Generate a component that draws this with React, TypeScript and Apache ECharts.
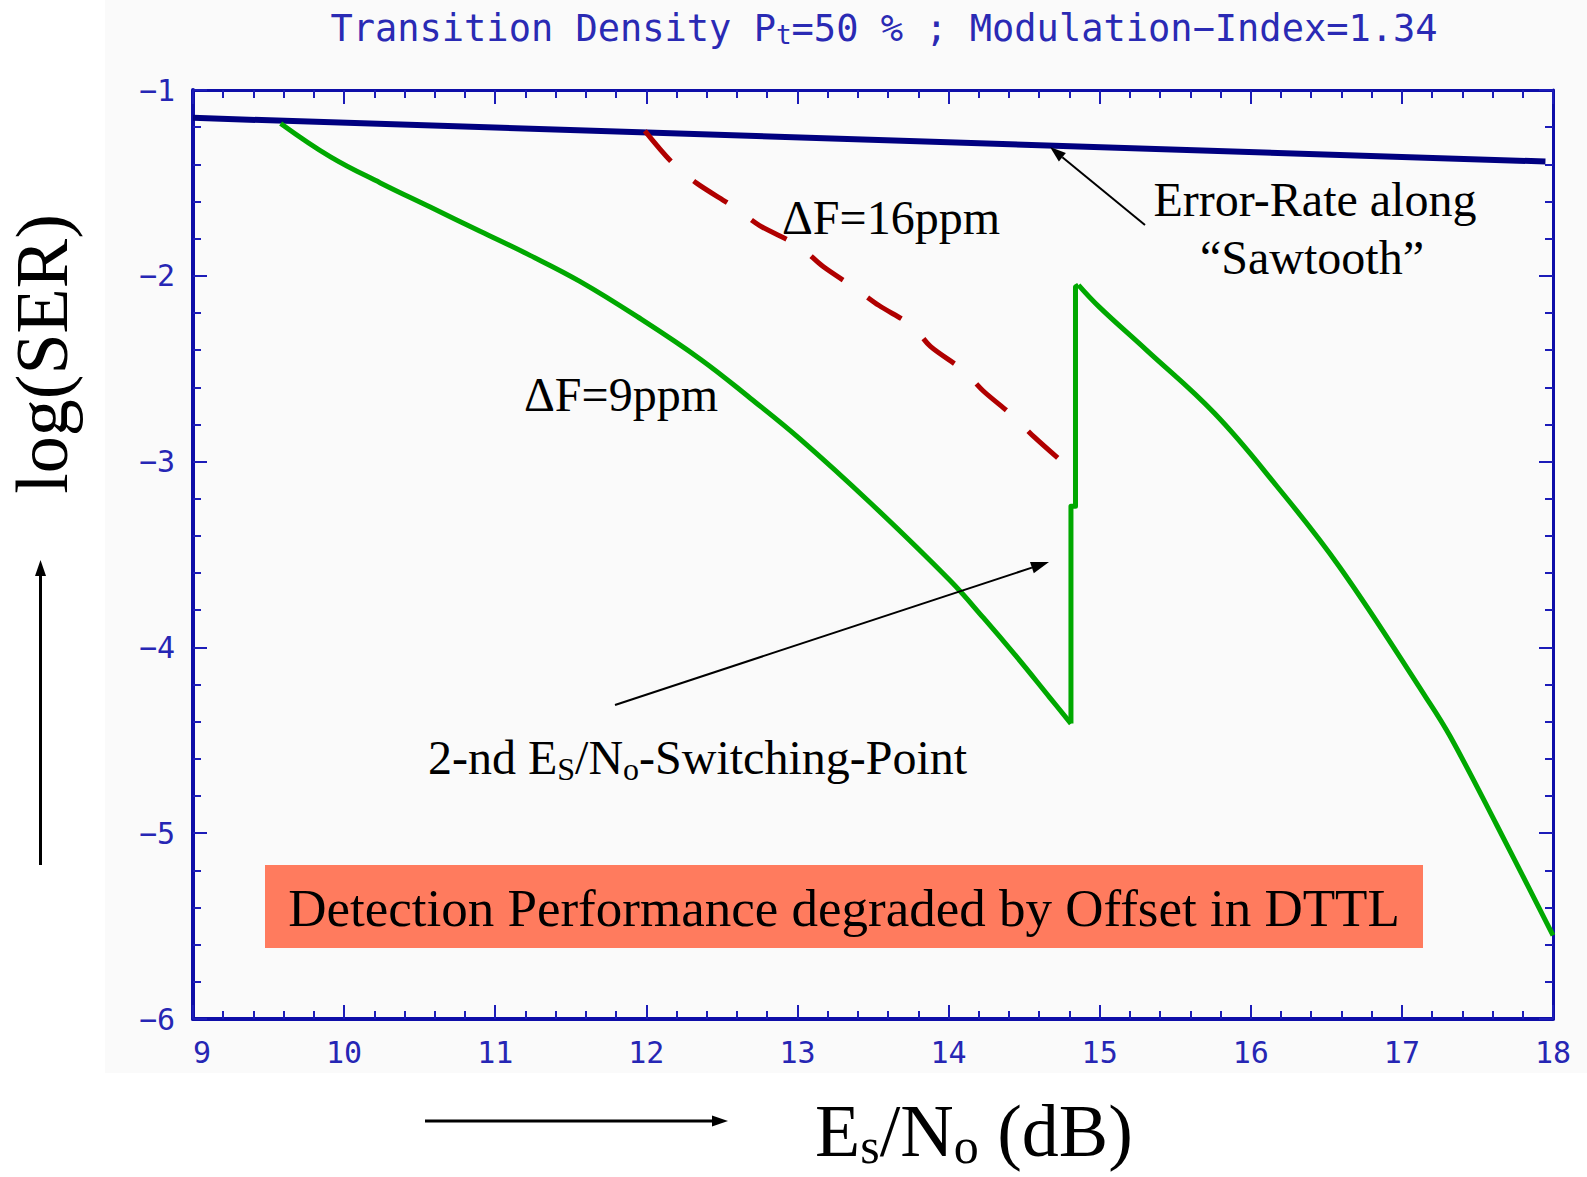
import React, { useEffect, useRef } from "react";
import * as echarts from "echarts";

// ---- axes ----
const xRange = [9, 18];
const yRange = [-6, -1];
const xTickStep = 1;
const yTickStep = 1;

// ---- series (x = Es/No in dB, y = log(SER)) ----
const sawtoothEnvelope = [
  [9.0, -1.15],
  [17.95, -1.385],
];

const deltaF16 = [
  [11.99, -1.22], [12.17, -1.39], [12.33, -1.5], [12.58, -1.63],
  [12.75, -1.73], [13.01, -1.84], [13.17, -1.95], [13.37, -2.06],
  [13.54, -2.16], [13.76, -2.27], [13.88, -2.38], [14.1, -2.51],
  [14.23, -2.62], [14.42, -2.75], [14.57, -2.87], [14.75, -3.0],
];

// dF = 9 ppm: descending branch before the switching point
const deltaF9Before = [
  [9.58, -1.18], [9.91, -1.36], [10.24, -1.5], [10.57, -1.63],
  [10.9, -1.76], [11.23, -1.89], [11.56, -2.03], [11.94, -2.22],
  [12.36, -2.45], [12.69, -2.66], [13.02, -2.88], [13.48, -3.22],
  [14.01, -3.64], [14.23, -3.84], [14.45, -4.05], [14.67, -4.27],
  [14.81, -4.41],
];
// dF = 9 ppm: jump at the 2nd switching point
const deltaF9Jump = [
  [14.81, -4.41], [14.81, -3.24], [14.84, -3.24], [14.84, -2.06], [14.86, -2.05],
];
// dF = 9 ppm: descending branch after the switching point
const deltaF9After = [
  [14.86, -2.05], [15.0, -2.17], [15.31, -2.4], [15.76, -2.74],
  [16.17, -3.13], [16.59, -3.57], [17.16, -4.27], [17.32, -4.48],
  [17.63, -4.96], [18.0, -5.55],
];

// ---- texts ----
const titleMain1 = "Transition Density P";
const titleSub = "t";
const titleMain2 = "=50 % ; Modulation\u2212Index=1.34";
const labelDF16 = "\u0394F=16ppm";
const labelDF9 = "\u0394F=9ppm";
const labelEnv1 = "Error-Rate along";
const labelEnv2 = "\u201cSawtooth\u201d";
const boxText = "Detection Performance degraded by Offset in DTTL";
const yTitle = "log(SER)";

const SERIF = "'Liberation Serif', 'Times New Roman', serif";
const MONO = "'DejaVu Sans Mono', monospace";
const AXIS_BLUE = "#0e0ea8";
const TICK_BLUE = "#1c1cb8";
const LABEL_BLUE = "#2626b4";
const GREEN = "#00a800";

function arrow(x1: number, y1: number, x2: number, y2: number, w: number, hl: number, hw: number) {
  const dx = x2 - x1, dy = y2 - y1;
  const L = Math.hypot(dx, dy);
  const ux = dx / L, uy = dy / L;
  const bx = x2 - ux * hl, by = y2 - uy * hl;
  const px = -uy * hw / 2, py = ux * hw / 2;
  return [
    { type: "line", shape: { x1, y1, x2: bx, y2: by }, style: { stroke: "#000", lineWidth: w }, z: 20 },
    { type: "polygon", shape: { points: [[x2, y2], [bx + px, by + py], [bx - px, by - py]] }, style: { fill: "#000" }, z: 20 },
  ];
}

function txt(text: string, x: number, y: number, size: number, align: string, extra: any = {}) {
  return {
    type: "text",
    x, y, z: 30,
    ...extra,
    style: {
      text,
      fill: "#000",
      fontFamily: SERIF,
      fontSize: size,
      align, verticalAlign: "middle",
      textAlign: align, textVerticalAlign: "middle",
    },
  };
}

export default function App() {
  const ref = useRef<HTMLDivElement>(null);
  useEffect(() => {
    if (!ref.current) return;
    const chart = echarts.init(ref.current, null, { renderer: "svg" });
    const fmt = (v: number) => (v < 0 ? "\u2212" + Math.abs(v) : String(v));
    const baseAxis = {
      type: "value",
      splitLine: { show: false },
      axisLine: { show: true, onZero: false, lineStyle: { color: AXIS_BLUE, width: 4 } },
      axisTick: { show: true, inside: true, length: 14, lineStyle: { color: TICK_BLUE, width: 2 } },
      minorTick: { show: true, splitNumber: 5, length: 8, lineStyle: { color: TICK_BLUE, width: 2 } },
    };
    const greenLine = { color: GREEN, width: 5, join: "round" };
    const option: any = {
      animation: false,
      backgroundColor: "#fafafa",
      grid: { left: 193, top: 90, right: 34, bottom: 158 },
      xAxis: [
        {
          ...baseAxis,
          position: "bottom",
          min: xRange[0], max: xRange[1], interval: xTickStep,
          axisLabel: { show: true, color: LABEL_BLUE, fontFamily: MONO, fontSize: 30, margin: 18, formatter: fmt, alignMinLabel: "left" },
        },
        {
          ...baseAxis,
          position: "top",
          min: xRange[0], max: xRange[1], interval: xTickStep,
          axisLine: { show: true, onZero: false, lineStyle: { color: AXIS_BLUE, width: 3 } },
          axisLabel: { show: false },
        },
      ],
      yAxis: [
        {
          ...baseAxis,
          position: "left",
          min: yRange[0], max: yRange[1], interval: yTickStep,
          axisLabel: { show: true, color: LABEL_BLUE, fontFamily: MONO, fontSize: 30, margin: 18, formatter: fmt },
        },
        {
          ...baseAxis,
          position: "right",
          min: yRange[0], max: yRange[1], interval: yTickStep,
          axisLine: { show: true, onZero: false, lineStyle: { color: AXIS_BLUE, width: 3 } },
          axisLabel: { show: false },
        },
      ],
      series: [
        {
          name: "Error-Rate along Sawtooth",
          type: "line",
          data: sawtoothEnvelope,
          showSymbol: false,
          lineStyle: { color: "#000080", width: 6 },
          z: 3,
        },
        {
          name: "dF=16ppm",
          type: "line",
          data: deltaF16,
          showSymbol: false,
          smooth: 0.3,
          lineStyle: { color: "#b00000", width: 5, type: [40, 30], cap: "butt" },
          z: 4,
        },
        {
          name: "dF=9ppm",
          type: "line",
          data: deltaF9Before,
          showSymbol: false,
          smooth: 0.4,
          lineStyle: greenLine,
          z: 5,
        },
        {
          name: "dF=9ppm jump",
          type: "line",
          data: deltaF9Jump,
          showSymbol: false,
          lineStyle: greenLine,
          z: 5,
        },
        {
          name: "dF=9ppm after",
          type: "line",
          data: deltaF9After,
          showSymbol: false,
          smooth: 0.4,
          lineStyle: greenLine,
          z: 5,
        },
      ],
      graphic: {
        elements: [
          { type: "rect", shape: { x: 0, y: 0, width: 105, height: 1177 }, style: { fill: "#ffffff" }, z: -5, silent: true },
          { type: "rect", shape: { x: 0, y: 1073, width: 1587, height: 104 }, style: { fill: "#ffffff" }, z: -5, silent: true },
          {
            type: "text",
            x: 884, y: 28, z: 30,
            style: {
              text: "{m|" + titleMain1 + "}{s|" + titleSub + "}{m|" + titleMain2 + "}",
              align: "center", verticalAlign: "middle",
              textAlign: "center", textVerticalAlign: "middle",
              rich: {
                m: { fontFamily: MONO, fontSize: 37, fill: "#2a2ab4", color: "#2a2ab4", lineHeight: 40 },
                s: { fontFamily: MONO, fontSize: 26, fill: "#2a2ab4", color: "#2a2ab4", lineHeight: 18, verticalAlign: "bottom" },
              },
            },
          },
          txt(labelDF16, 782, 217, 48, "left"),
          txt(labelDF9, 524, 394, 48, "left"),
          txt(labelEnv1, 1315, 199, 48, "center"),
          txt(labelEnv2, 1312, 257, 48, "center"),
          {
            type: "text",
            x: 428, y: 757, z: 30,
            style: {
              text: "{m|2-nd E}{s|S}{m|/N}{s|o}{m|-Switching-Point}",
              align: "left", verticalAlign: "middle",
              textAlign: "left", textVerticalAlign: "middle",
              rich: {
                m: { fontFamily: SERIF, fontSize: 48, fill: "#000", color: "#000", lineHeight: 56 },
                s: { fontFamily: SERIF, fontSize: 32, fill: "#000", color: "#000", lineHeight: 16, verticalAlign: "bottom" },
              },
            },
          },
          { type: "rect", shape: { x: 265, y: 865, width: 1158, height: 83 }, style: { fill: "#ff7b5e" }, z: 25 },
          txt(boxText, 844, 908, 53, "center"),
          txt(yTitle, 42, 354, 74, "center", { rotation: Math.PI / 2 }),
          {
            type: "text",
            x: 815, y: 1131, z: 30,
            style: {
              text: "{m|E}{s|s}{m|/N}{s|o}{m| (dB)}",
              align: "left", verticalAlign: "middle",
              textAlign: "left", textVerticalAlign: "middle",
              rich: {
                m: { fontFamily: SERIF, fontSize: 74, fill: "#000", color: "#000", lineHeight: 80 },
                s: { fontFamily: SERIF, fontSize: 50, fill: "#000", color: "#000", lineHeight: 22, verticalAlign: "bottom" },
              },
            },
          },
          ...arrow(40.5, 865, 40.5, 560, 3, 16, 11),
          ...arrow(425, 1121, 728, 1121, 3, 16, 11),
          ...arrow(1145, 225, 1050, 147, 2, 16, 11),
          ...arrow(615, 705, 1049, 562, 2, 18, 12),
        ],
      },
    };
    chart.setOption(option);
    return () => chart.dispose();
  }, []);
  return <div ref={ref} style={{ position: "fixed", left: 0, top: 0, width: 1587, height: 1177 }} />;
}
